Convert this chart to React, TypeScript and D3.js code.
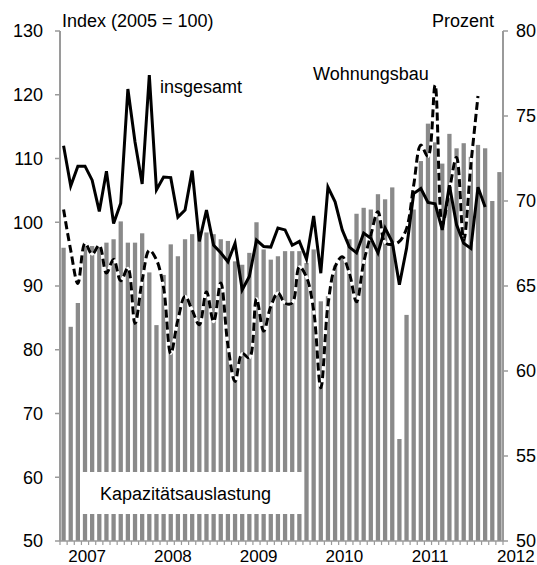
import React, { useEffect, useRef } from 'react';
import * as d3 from 'd3';

// Monate Dez 2006 .. Jan 2012
const months = d3.timeMonth.range(new Date(2006, 11, 1), new Date(2012, 1, 1));
const years = [2007, 2008, 2009, 2010, 2011, 2012];
const leftTicks = [50, 60, 70, 80, 90, 100, 110, 120, 130];
const rightTicks = [50, 55, 60, 65, 70, 75, 80];

// Kapazitätsauslastung (Prozent, rechte Achse)
const auslastung = [
  67.25, 62.6, 64.0, 67.55, 67.35, 67.3, 67.55, 67.75, 68.8, 67.55, 67.55, 68.1,
  65.8, 62.7, 65.65, 67.45, 66.75, 67.75, 68.05, 68.15, 68.15, 68.05, 67.75, 67.65,
  66.45, 66.25, 66.95, 68.75, 67.15, 66.55, 66.75, 67.05, 67.05, 67.05, 66.35, 67.15,
  64.1, 64.4, 66.2, 66.65, 67.75, 69.25, 69.6, 69.5, 70.4, 70.1, 70.8, 56.0,
  63.3, 69.5, 72.35, 74.55, 73.45, 72.2, 73.95, 73.1, 73.4, 72.6, 73.3, 73.1,
  70.0, 71.7,
];

// Index insgesamt (linke Achse)
const insgesamt = [
  112.0, 105.7, 108.8, 108.8, 106.6, 101.7, 108.0, 99.8, 103.0, 120.9, 112.6, 106.0,
  123.1, 105.1, 107.1, 107.0, 100.8, 101.9, 108.1, 97.0, 101.9, 96.4, 95.2, 93.8,
  96.7, 89.4, 91.5, 97.2, 96.2, 96.1, 99.1, 98.8, 96.4, 97.0, 94.2, 101.0,
  92.0, 105.5, 103.2, 98.8, 96.1, 95.2, 98.3, 97.5, 95.2, 99.1, 96.9, 90.2,
  95.9, 104.5, 105.3, 103.1, 102.9, 98.8, 105.8, 99.6, 96.7, 95.9, 105.5, 102.4,
];

// Index Wohnungsbau (linke Achse)
const wohnungsbau = [
  102.0, 95.6, 90.4, 96.7, 95.0, 96.4, 92.0, 94.2, 90.8, 92.8, 84.1, 90.9,
  95.6, 94.1, 89.7, 79.4, 84.7, 88.4, 86.2, 83.9, 89.1, 84.4, 90.5, 80.7,
  75.0, 79.4, 78.7, 88.0, 82.9, 86.8, 88.9, 87.3, 87.3, 93.0, 91.4, 86.2,
  74.0, 87.0, 93.0, 94.6, 92.0, 87.5, 93.7, 98.0, 101.7, 96.8, 96.5, 97.0,
  99.0, 105.8, 112.1, 110.3, 121.5, 99.6, 105.1, 110.2, 97.2, 109.0, 119.8,
];

const App = () => {
  const ref = useRef(null);

  useEffect(() => {
    const width = 537;
    const height = 565;
    const marginLeft = 60;
    const marginRight = 34;
    const marginTop = 31;
    const marginBottom = 24;
    const font = 'Arial, "Liberation Sans", sans-serif';
    const axisColor = '#9a9a9a';

    d3.select(ref.current).selectAll('*').remove();

    const svg = d3.select(ref.current)
      .append('svg')
      .attr('width', width)
      .attr('height', height)
      .style('display', 'block')
      .style('font-family', font);

    svg.append('rect').attr('width', width).attr('height', height).attr('fill', '#fff');

    const x = d3.scaleBand()
      .domain(months.map((d, i) => i))
      .range([marginLeft, width - marginRight])
      .paddingInner(0.4)
      .paddingOuter(0.2);

    const yL = d3.scaleLinear().domain([50, 130]).range([height - marginBottom, marginTop]);
    const yR = d3.scaleLinear().domain([50, 80]).range([height - marginBottom, marginTop]);

    const cx = (i) => x(i) + x.bandwidth() / 2;

    // Balken
    svg.append('g')
      .selectAll('rect')
      .data(auslastung)
      .join('rect')
      .attr('x', (d, i) => x(i))
      .attr('y', d => yR(d))
      .attr('width', x.bandwidth())
      .attr('height', d => yR(50) - yR(d))
      .attr('fill', '#8a8a8a');

    // Beschriftungsbox
    svg.append('rect')
      .attr('x', 80).attr('y', 472)
      .attr('width', 224).attr('height', 42)
      .attr('fill', '#fff');
    svg.append('text')
      .attr('x', 100).attr('y', 500)
      .attr('font-size', 18)
      .text('Kapazitätsauslastung');

    // Achsen
    const y0 = yL(50);
    svg.append('line')
      .attr('x1', marginLeft).attr('x2', width - marginRight)
      .attr('y1', y0).attr('y2', y0)
      .attr('stroke', axisColor).attr('stroke-width', 1.5);
    const step = x.step();
    const start = x.range()[0];
    svg.append('g')
      .selectAll('line')
      .data(d3.range(months.length + 1))
      .join('line')
      .attr('x1', i => start + i * step).attr('x2', i => start + i * step)
      .attr('y1', y0).attr('y2', y0 + 4)
      .attr('stroke', axisColor).attr('stroke-width', 1.2);

    svg.append('line')
      .attr('x1', marginLeft).attr('x2', marginLeft)
      .attr('y1', yL(130)).attr('y2', y0)
      .attr('stroke', axisColor).attr('stroke-width', 2);
    svg.append('line')
      .attr('x1', width - marginRight).attr('x2', width - marginRight)
      .attr('y1', yR(80)).attr('y2', y0)
      .attr('stroke', axisColor).attr('stroke-width', 2);

    const lt = svg.append('g').selectAll('g').data(leftTicks).join('g');
    lt.append('line')
      .attr('x1', marginLeft - 5).attr('x2', marginLeft)
      .attr('y1', d => yL(d)).attr('y2', d => yL(d))
      .attr('stroke', axisColor).attr('stroke-width', 1.5);
    lt.append('text')
      .attr('x', 43).attr('y', d => yL(d))
      .attr('dy', '0.35em')
      .attr('text-anchor', 'end')
      .attr('font-size', 18)
      .text(d => d);

    const rt = svg.append('g').selectAll('g').data(rightTicks).join('g');
    rt.append('line')
      .attr('x1', width - marginRight).attr('x2', width - marginRight + 5)
      .attr('y1', d => yR(d)).attr('y2', d => yR(d))
      .attr('stroke', axisColor).attr('stroke-width', 1.5);
    rt.append('text')
      .attr('x', width - marginRight + 13).attr('y', d => yR(d))
      .attr('dy', '0.35em')
      .attr('font-size', 18)
      .text(d => d);

    // Jahreszahlen
    svg.append('g')
      .selectAll('text')
      .data(years)
      .join('text')
      .attr('x', d => {
        const i = months.findIndex(m => m.getFullYear() === d && m.getMonth() === 0);
        return cx(i) + step * 2.3;
      })
      .attr('y', height - 3)
      .attr('text-anchor', 'middle')
      .attr('font-size', 17)
      .text(d => d);

    // Linien
    const line = d3.line()
      .x((d, i) => cx(i))
      .y(d => yL(d));

    const smooth = d3.line()
      .x((d, i) => cx(i))
      .y(d => yL(d))
      .curve(d3.curveCatmullRom.alpha(0.5));

    svg.append('path')
      .datum(wohnungsbau)
      .attr('fill', 'none')
      .attr('stroke', '#fff')
      .attr('stroke-width', 3)
      .attr('d', smooth);
    svg.append('path')
      .datum(wohnungsbau)
      .attr('fill', 'none')
      .attr('stroke', '#000')
      .attr('stroke-width', 3)
      .attr('stroke-dasharray', '8,4')
      .attr('d', smooth);

    svg.append('path')
      .datum(insgesamt)
      .attr('fill', 'none')
      .attr('stroke', '#000')
      .attr('stroke-width', 3)
      .attr('stroke-linejoin', 'miter')
      .attr('d', line);

    // Beschriftungen
    svg.append('text').attr('x', 62).attr('y', 27).attr('font-size', 18).text('Index (2005 = 100)');
    svg.append('text').attr('x', 494).attr('y', 27).attr('font-size', 18)
      .attr('text-anchor', 'end').text('Prozent');
    svg.append('text').attr('x', 160).attr('y', 93).attr('font-size', 18).text('insgesamt');
    svg.append('text').attr('x', 313).attr('y', 80).attr('font-size', 18).text('Wohnungsbau');
  }, []);

  return (
    <>
      <style>{'body{margin:0}'}</style>
      <div ref={ref}></div>
    </>
  );
};

export default App;
